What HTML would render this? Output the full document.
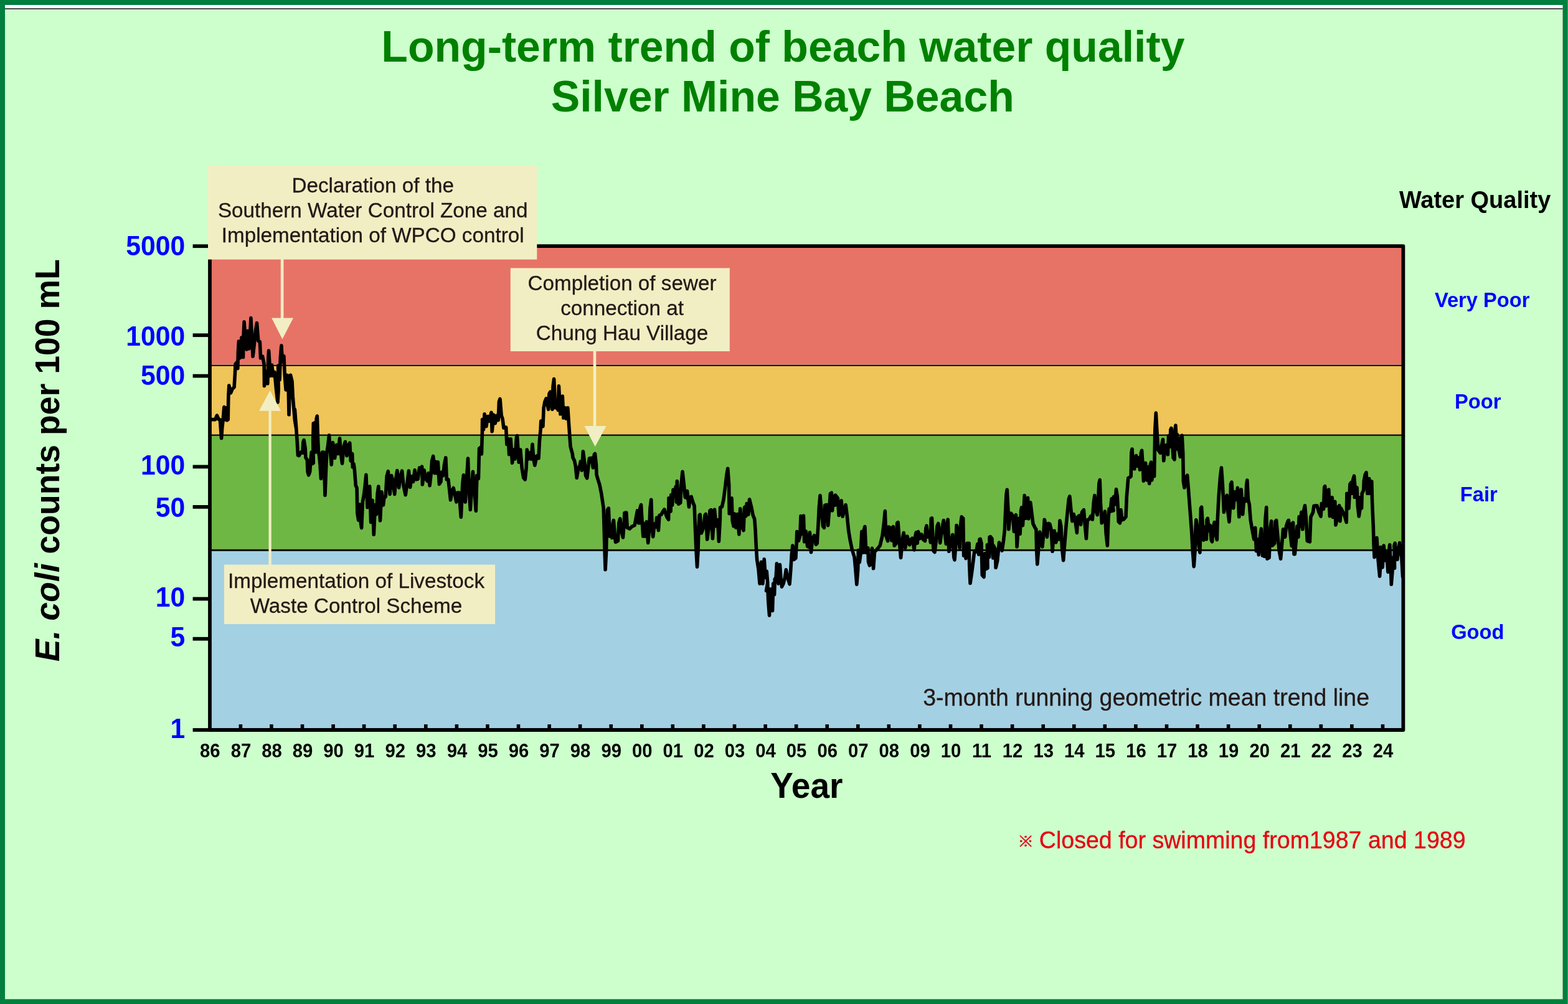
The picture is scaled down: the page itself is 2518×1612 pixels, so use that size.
<!DOCTYPE html>
<html lang="en">
<head>
<meta charset="utf-8">
<title>Long-term trend of beach water quality - Silver Mine Bay Beach</title>
<style>
html,body{margin:0;padding:0;background:#ccffcc;}
body{width:2518px;height:1612px;overflow:hidden;font-family:"Liberation Sans",Arial,Helvetica,sans-serif;}
svg{display:block;}
text{font-family:"Liberation Sans",Arial,Helvetica,sans-serif;}
.b{font-weight:bold;}
.yl{font-weight:bold;fill:#0000ff;}
.xl{font-weight:bold;fill:#000;}
.wq{font-weight:bold;fill:#0000ff;}
.an{fill:#231815;stroke:#231815;stroke-width:0.3px;}
.nt{fill:#e60012;stroke:#e60012;stroke-width:0.3px;}
.cj{font-family:"Liberation Sans","Noto Sans CJK JP",sans-serif;}
</style>
</head>
<body>
<svg width="2518" height="1612" viewBox="0 0 2518 1612">
<rect x="0" y="0" width="2518" height="1612" fill="#007f3f"/>
<rect x="2517.1" y="0" width="0.9" height="1612" fill="#4aa878"/>
<rect x="8" y="8" width="2501.5" height="1596.2" fill="#ffffff"/>
<rect x="8" y="13.4" width="2501.5" height="1590.8" fill="#000000"/>
<rect x="8" y="14.8" width="2501.5" height="1589.4" fill="#ccffcc"/>
<text transform="translate(1257.4 98.5) scale(1.0 1.017)" font-size="69.75" class="b" fill="#008000" text-anchor="middle">Long-term trend of beach water quality</text>
<text transform="translate(1256.7 179) scale(1.0 1.017)" font-size="69.75" class="b" fill="#008000" text-anchor="middle">Silver Mine Bay Beach</text>
<rect x="337.0" y="395.2" width="1916.4" height="191.5" fill="#e77366"/>
<rect x="337.0" y="586.7" width="1916.4" height="111.8" fill="#efc458"/>
<rect x="337.0" y="698.5" width="1916.4" height="184.8" fill="#6eb745"/>
<rect x="337.0" y="883.3" width="1916.4" height="288.7" fill="#a4d0e3"/>
<rect x="337.0" y="584.2" width="1916.4" height="1.7" fill="#c98c80"/>
<rect x="337.0" y="585.9" width="1916.4" height="1.9" fill="#1a0202"/>
<rect x="337.0" y="695.8" width="1916.4" height="1.7" fill="#dcc488"/>
<rect x="337.0" y="697.5" width="1916.4" height="2.3" fill="#150a02"/>
<rect x="337.0" y="880.8" width="1916.4" height="1.1" fill="#93a86a"/>
<rect x="337.0" y="881.9" width="1916.4" height="3.0" fill="#081003"/>
<line x1="386.4" y1="1163" x2="386.4" y2="1172.0" stroke="#000" stroke-width="5.6"/>
<line x1="435.9" y1="1163" x2="435.9" y2="1172.0" stroke="#000" stroke-width="5.6"/>
<line x1="485.5" y1="1163" x2="485.5" y2="1172.0" stroke="#000" stroke-width="5.6"/>
<line x1="535.1" y1="1163" x2="535.1" y2="1172.0" stroke="#000" stroke-width="5.6"/>
<line x1="584.6" y1="1163" x2="584.6" y2="1172.0" stroke="#000" stroke-width="5.6"/>
<line x1="634.2" y1="1163" x2="634.2" y2="1172.0" stroke="#000" stroke-width="5.6"/>
<line x1="683.8" y1="1163" x2="683.8" y2="1172.0" stroke="#000" stroke-width="5.6"/>
<line x1="733.4" y1="1163" x2="733.4" y2="1172.0" stroke="#000" stroke-width="5.6"/>
<line x1="782.9" y1="1163" x2="782.9" y2="1172.0" stroke="#000" stroke-width="5.6"/>
<line x1="832.5" y1="1163" x2="832.5" y2="1172.0" stroke="#000" stroke-width="5.6"/>
<line x1="882.1" y1="1163" x2="882.1" y2="1172.0" stroke="#000" stroke-width="5.6"/>
<line x1="931.6" y1="1163" x2="931.6" y2="1172.0" stroke="#000" stroke-width="5.6"/>
<line x1="981.2" y1="1163" x2="981.2" y2="1172.0" stroke="#000" stroke-width="5.6"/>
<line x1="1030.8" y1="1163" x2="1030.8" y2="1172.0" stroke="#000" stroke-width="5.6"/>
<line x1="1080.3" y1="1163" x2="1080.3" y2="1172.0" stroke="#000" stroke-width="5.6"/>
<line x1="1129.9" y1="1163" x2="1129.9" y2="1172.0" stroke="#000" stroke-width="5.6"/>
<line x1="1179.5" y1="1163" x2="1179.5" y2="1172.0" stroke="#000" stroke-width="5.6"/>
<line x1="1229.1" y1="1163" x2="1229.1" y2="1172.0" stroke="#000" stroke-width="5.6"/>
<line x1="1278.6" y1="1163" x2="1278.6" y2="1172.0" stroke="#000" stroke-width="5.6"/>
<line x1="1328.2" y1="1163" x2="1328.2" y2="1172.0" stroke="#000" stroke-width="5.6"/>
<line x1="1377.8" y1="1163" x2="1377.8" y2="1172.0" stroke="#000" stroke-width="5.6"/>
<line x1="1427.3" y1="1163" x2="1427.3" y2="1172.0" stroke="#000" stroke-width="5.6"/>
<line x1="1476.9" y1="1163" x2="1476.9" y2="1172.0" stroke="#000" stroke-width="5.6"/>
<line x1="1526.5" y1="1163" x2="1526.5" y2="1172.0" stroke="#000" stroke-width="5.6"/>
<line x1="1576.0" y1="1163" x2="1576.0" y2="1172.0" stroke="#000" stroke-width="5.6"/>
<line x1="1625.6" y1="1163" x2="1625.6" y2="1172.0" stroke="#000" stroke-width="5.6"/>
<line x1="1675.2" y1="1163" x2="1675.2" y2="1172.0" stroke="#000" stroke-width="5.6"/>
<line x1="1724.8" y1="1163" x2="1724.8" y2="1172.0" stroke="#000" stroke-width="5.6"/>
<line x1="1774.3" y1="1163" x2="1774.3" y2="1172.0" stroke="#000" stroke-width="5.6"/>
<line x1="1823.9" y1="1163" x2="1823.9" y2="1172.0" stroke="#000" stroke-width="5.6"/>
<line x1="1873.5" y1="1163" x2="1873.5" y2="1172.0" stroke="#000" stroke-width="5.6"/>
<line x1="1923.0" y1="1163" x2="1923.0" y2="1172.0" stroke="#000" stroke-width="5.6"/>
<line x1="1972.6" y1="1163" x2="1972.6" y2="1172.0" stroke="#000" stroke-width="5.6"/>
<line x1="2022.2" y1="1163" x2="2022.2" y2="1172.0" stroke="#000" stroke-width="5.6"/>
<line x1="2071.8" y1="1163" x2="2071.8" y2="1172.0" stroke="#000" stroke-width="5.6"/>
<line x1="2121.3" y1="1163" x2="2121.3" y2="1172.0" stroke="#000" stroke-width="5.6"/>
<line x1="2170.9" y1="1163" x2="2170.9" y2="1172.0" stroke="#000" stroke-width="5.6"/>
<line x1="2220.5" y1="1163" x2="2220.5" y2="1172.0" stroke="#000" stroke-width="5.6"/>
<line x1="309.6" y1="395.2" x2="337.0" y2="395.2" stroke="#000" stroke-width="5.8"/>
<text transform="translate(297.3 409.7) scale(1.0 1.04)" font-size="42.7" class="yl" text-anchor="end">5000</text>
<line x1="309.6" y1="538.2" x2="337.0" y2="538.2" stroke="#000" stroke-width="5.8"/>
<text transform="translate(297.3 554.8) scale(1.0 1.04)" font-size="42.7" class="yl" text-anchor="end">1000</text>
<line x1="309.6" y1="603.6" x2="337.0" y2="603.6" stroke="#000" stroke-width="5.8"/>
<text transform="translate(297.3 617.9) scale(1.0 1.04)" font-size="42.7" class="yl" text-anchor="end">500</text>
<line x1="309.6" y1="749.4" x2="337.0" y2="749.4" stroke="#000" stroke-width="5.8"/>
<text transform="translate(297.3 762.4) scale(1.0 1.04)" font-size="42.7" class="yl" text-anchor="end">100</text>
<line x1="309.6" y1="813.9" x2="337.0" y2="813.9" stroke="#000" stroke-width="5.8"/>
<text transform="translate(297.3 829.7) scale(1.0 1.04)" font-size="42.7" class="yl" text-anchor="end">50</text>
<line x1="309.6" y1="961.5" x2="337.0" y2="961.5" stroke="#000" stroke-width="5.8"/>
<text transform="translate(297.3 973.5) scale(1.0 1.04)" font-size="42.7" class="yl" text-anchor="end">10</text>
<line x1="309.6" y1="1025.7" x2="337.0" y2="1025.7" stroke="#000" stroke-width="5.8"/>
<text transform="translate(297.3 1037.5) scale(1.0 1.04)" font-size="42.7" class="yl" text-anchor="end">5</text>
<line x1="309.6" y1="1172.0" x2="337.0" y2="1172.0" stroke="#000" stroke-width="5.8"/>
<text transform="translate(297.3 1184.6) scale(1.0 1.04)" font-size="42.7" class="yl" text-anchor="end">1</text>
<clipPath id="pc"><rect x="337.0" y="395.2" width="1919.4" height="776.8"/></clipPath>
<polyline clip-path="url(#pc)" fill="none" stroke="#000" stroke-width="5.6" stroke-linejoin="round" stroke-linecap="round" points="340.0,673.6 345.6,673.6 348.4,667.1 351.2,673.3 353.4,673.9 354.4,687.5 355.6,703.7 356.7,687.5 358.1,674.8 359.9,653.6 361.2,673.6 362.4,654.9 364.3,674.8 366.2,673.6 366.8,637.2 367.8,619.1 370.5,630.9 373.0,624.7 376.1,621.6 377.4,599.8 378.0,584.8 379.9,582.3 381.8,591.6 382.4,564.8 383.4,548.0 385.5,574.8 386.7,556.1 388.0,541.8 390.5,573.6 391.1,537.4 392.1,516.8 394.2,549.9 396.1,561.1 398.0,531.2 399.8,559.9 401.7,537.4 402.9,510.6 404.8,549.9 406.1,572.3 408.6,549.9 410.4,531.2 412.5,518.7 414.8,547.4 417.3,548.6 418.5,574.8 421.6,572.3 424.1,584.8 424.5,619.7 427.3,596.0 429.8,616.0 430.8,574.8 431.6,563.0 434.1,603.5 436.6,586.0 438.5,603.5 441.0,597.3 443.5,624.7 446.0,645.9 447.2,624.7 446.6,587.3 449.1,609.7 450.3,574.8 451.9,554.9 453.4,581.0 455.9,571.7 457.2,602.2 459.1,625.9 460.3,602.2 462.8,603.5 464.0,665.8 465.3,624.7 466.5,602.2 469.0,612.2 470.3,637.2 473.4,674.6 475.9,689.5 473.4,657.4 475.3,682.3 477.1,707.3 478.4,731.0 480.2,731.6 483.4,726.0 485.9,727.2 486.9,709.8 488.1,706.7 490.2,719.8 490.9,734.7 493.3,738.5 494.0,757.2 495.6,762.8 497.7,757.2 498.9,738.5 500.2,726.0 501.4,744.7 503.3,743.4 502.7,707.3 503.3,679.9 504.6,724.7 505.8,678.6 507.1,726.0 508.1,672.4 509.3,668.0 510.6,707.3 511.4,724.7 512.7,732.2 513.9,744.7 515.4,768.4 516.4,732.2 517.7,726.0 518.5,757.2 519.5,726.0 520.8,757.2 522.0,795.2 523.9,744.7 524.8,726.0 526.4,717.3 528.5,698.7 530.8,729.9 532.2,746.1 534.5,710.5 537.6,735.5 540.7,714.3 543.2,728.6 545.5,703.7 547.6,729.9 549.5,744.2 552.0,717.4 554.4,709.3 556.9,731.8 559.4,714.9 561.7,711.2 563.2,739.9 565.7,728.6 566.3,749.8 568.1,744.8 569.4,754.8 571.3,779.8 573.1,783.5 573.8,823.4 575.6,835.2 577.5,809.7 579.4,839.6 580.6,847.7 582.5,804.7 584.4,794.7 586.2,779.8 587.9,762.3 590.0,814.7 591.9,782.2 593.7,781.0 595.6,838.4 598.1,803.4 600.3,858.3 602.4,810.9 604.3,825.9 606.2,792.2 607.8,781.0 610.5,835.9 612.8,789.7 615.5,810.9 616.8,799.7 619.3,797.2 621.1,764.8 623.3,756.7 626.1,793.5 628.6,763.5 630.6,771.0 633.7,793.5 635.6,769.8 637.8,755.5 640.6,782.9 643.1,764.8 645.6,756.1 648.0,779.8 651.2,794.7 653.7,777.3 656.4,756.1 658.6,782.3 661.1,764.8 663.6,773.5 666.1,754.8 668.6,769.8 671.1,769.2 673.6,751.1 675.5,754.8 677.6,749.2 678.4,777.9 681.1,754.8 683.6,768.5 686.1,772.3 688.0,759.8 690.1,779.8 692.3,759.8 693.6,739.9 695.7,732.4 697.9,759.8 699.2,741.1 701.0,759.8 703.3,741.8 705.4,777.3 707.9,773.5 709.1,758.0 711.6,763.6 713.5,746.1 715.8,734.9 717.3,769.8 719.8,769.8 721.6,784.8 723.5,802.8 726.0,788.5 728.2,783.5 730.4,793.5 732.8,806.0 734.7,791.0 737.2,791.0 740.3,830.3 742.8,777.3 744.4,762.9 747.2,806.0 749.7,764.8 751.5,736.1 753.4,789.8 755.3,818.4 757.8,777.3 759.4,757.3 762.1,792.2 764.3,820.3 765.9,763.6 768.4,768.5 769.6,719.9 771.5,718.4 773.4,729.0 774.4,694.7 774.6,673.5 776.5,689.7 778.1,664.8 780.9,684.7 783.3,668.5 785.8,676.0 789.0,662.3 790.2,692.8 792.7,666.0 795.2,679.7 797.7,667.3 800.2,674.7 801.4,644.8 803.0,640.5 805.2,667.3 807.0,672.2 808.9,687.2 812.6,686.0 813.9,713.4 816.4,704.7 817.6,729.6 820.1,704.7 822.6,743.3 824.5,722.1 827.0,737.1 829.5,702.2 830.5,699.7 833.2,742.1 835.7,722.1 838.2,752.0 840.7,767.0 843.2,770.1 845.1,752.0 846.3,722.1 848.8,737.1 850.7,727.1 853.2,737.1 855.0,713.4 856.9,737.1 858.8,747.1 861.9,732.1 865.0,735.8 866.3,709.6 868.1,689.7 868.8,676.0 871.9,684.7 873.1,654.8 875.0,644.8 877.1,639.8 880.6,657.3 881.9,632.3 883.7,629.2 886.8,657.3 888.1,619.9 889.6,608.6 891.8,654.8 894.3,651.0 896.2,658.5 897.4,619.9 899.9,664.8 901.8,637.3 903.3,636.1 904.9,671.0 907.4,654.8 909.3,672.2 911.8,654.8 913.6,682.2 916.1,717.1 919.2,728.4 920.0,734.8 922.5,739.8 924.3,748.5 926.2,767.2 928.7,752.2 931.2,747.2 932.4,741.0 934.3,755.3 936.4,724.8 939.3,747.2 940.5,763.4 942.7,767.8 944.9,748.5 946.4,736.0 949.9,735.4 952.4,751.0 954.3,729.8 955.5,728.5 957.4,746.0 958.0,762.2 959.9,768.7 963.0,778.7 965.5,791.2 967.4,803.6 969.2,816.1 970.1,847.3 971.1,884.7 972.1,914.6 973.6,884.7 974.2,847.3 975.5,818.6 977.3,816.1 978.3,841.0 979.2,861.0 981.7,846.0 982.9,863.5 984.2,839.8 985.4,835.4 987.3,859.8 988.5,870.4 992.3,868.5 993.8,839.8 995.8,832.9 997.9,852.3 1000.4,862.9 1002.3,839.8 1002.9,823.6 1005.8,823.0 1007.3,847.3 1011.0,849.1 1014.7,845.4 1019.1,843.5 1021.0,833.6 1023.5,819.9 1025.3,839.8 1027.2,839.8 1027.8,816.1 1029.5,810.5 1031.0,834.8 1032.8,861.0 1034.7,841.0 1035.9,861.0 1038.2,837.9 1040.7,871.6 1042.8,847.3 1044.0,816.1 1045.7,802.4 1047.2,847.3 1048.7,861.6 1050.9,841.0 1053.4,846.0 1054.6,831.1 1057.4,851.6 1059.0,827.3 1062.1,826.1 1064.6,821.1 1066.9,818.0 1070.8,829.8 1073.6,834.2 1074.0,799.9 1077.1,821.1 1077.7,794.9 1079.6,811.1 1081.1,786.2 1083.9,796.2 1085.2,781.2 1086.4,806.1 1087.3,772.5 1089.5,809.2 1092.7,807.4 1093.9,778.7 1096.0,757.3 1098.3,777.5 1100.2,798.6 1102.6,799.3 1103.5,788.4 1106.4,814.0 1108.2,798.6 1110.1,797.4 1112.6,806.1 1115.1,812.4 1116.4,847.3 1118.0,884.7 1119.5,910.2 1121.0,884.7 1122.0,847.3 1123.2,827.3 1124.2,826.1 1126.3,856.0 1128.8,849.8 1130.7,839.8 1132.0,827.3 1133.4,825.5 1135.7,866.0 1138.2,847.3 1140.0,819.9 1141.9,818.6 1144.4,864.7 1146.3,834.8 1147.5,818.0 1150.0,844.8 1152.5,834.8 1154.4,869.1 1156.3,834.8 1156.6,814.9 1159.4,813.6 1161.9,802.4 1164.4,783.7 1166.9,762.5 1168.7,752.3 1170.6,777.5 1171.2,824.8 1173.1,801.1 1175.0,799.9 1176.2,836.1 1178.1,844.8 1179.3,824.8 1181.8,847.3 1184.3,825.5 1186.8,857.9 1188.7,816.7 1191.2,844.8 1194.0,851.6 1195.5,814.9 1196.8,813.6 1198.0,828.6 1199.3,808.6 1201.8,826.1 1203.6,801.8 1206.8,814.9 1209.2,827.3 1211.8,833.6 1213.1,852.3 1214.3,877.3 1215.6,898.5 1218.1,914.7 1220.0,937.1 1221.2,914.7 1222.4,902.2 1224.3,914.7 1224.9,937.1 1227.2,897.9 1229.3,927.2 1231.2,917.2 1232.7,935.9 1230.5,948.4 1232.7,937.1 1233.7,964.6 1235.5,988.1 1237.4,945.9 1238.7,977.0 1240.5,980.6 1241.8,937.1 1243.6,954.6 1244.3,929.6 1246.1,927.2 1247.4,904.7 1249.9,937.1 1252.4,906.6 1253.9,927.2 1255.5,942.1 1258.0,937.1 1260.5,927.2 1262.3,914.7 1264.8,927.2 1268.0,937.8 1269.8,914.7 1271.3,889.8 1272.9,876.0 1274.8,898.5 1277.9,896.0 1279.2,869.8 1279.8,853.6 1282.3,868.5 1284.8,859.8 1286.0,828.6 1288.3,857.3 1290.4,828.0 1291.7,869.8 1294.1,853.0 1296.6,877.3 1299.1,878.5 1300.4,854.8 1302.5,886.6 1304.7,864.8 1307.5,859.8 1310.3,874.2 1312.2,872.3 1314.1,839.9 1315.3,814.9 1317.0,795.6 1319.1,821.2 1321.6,844.9 1323.4,847.4 1324.7,811.2 1327.8,810.6 1329.7,843.6 1331.5,821.2 1333.4,792.5 1335.3,791.2 1336.5,819.9 1338.4,797.5 1340.9,811.2 1341.5,795.0 1345.3,800.0 1347.1,827.4 1349.6,821.2 1351.1,803.7 1353.1,829.3 1355.2,821.2 1358.1,810.6 1360.2,827.4 1362.7,852.3 1365.2,867.3 1368.3,882.3 1372.1,894.7 1373.9,914.7 1375.8,938.4 1377.7,914.7 1378.3,883.5 1380.2,902.8 1382.0,889.8 1383.9,853.6 1386.4,887.3 1387.0,852.3 1388.9,845.5 1390.8,887.3 1393.9,879.8 1394.5,902.2 1396.4,907.8 1398.9,906.0 1400.5,880.4 1402.6,912.8 1404.5,886.0 1408.2,882.3 1413.2,876.0 1417.0,859.8 1419.5,839.9 1421.3,820.5 1422.6,859.8 1425.7,868.5 1426.9,846.1 1430.0,847.4 1431.9,867.9 1434.4,845.5 1436.3,876.0 1439.4,872.3 1440.7,839.9 1442.1,838.6 1444.4,871.0 1446.6,895.4 1449.4,864.8 1451.2,855.5 1453.7,879.8 1456.9,861.1 1460.6,874.8 1463.1,866.1 1465.0,864.2 1468.1,882.9 1470.0,859.8 1471.2,854.8 1473.1,872.3 1474.6,853.6 1476.8,864.8 1479.9,858.0 1482.4,866.1 1485.5,868.5 1486.8,848.6 1488.0,844.2 1490.5,862.3 1493.0,859.8 1494.3,871.0 1495.3,832.4 1496.5,831.8 1498.0,864.8 1499.2,884.8 1501.0,886.6 1503.1,869.8 1505.0,844.8 1506.8,840.5 1509.7,871.6 1512.4,851.0 1515.3,835.5 1517.4,857.3 1519.3,873.5 1520.5,844.8 1522.2,834.2 1523.9,885.3 1526.8,869.8 1529.7,858.5 1531.8,894.7 1533.0,899.0 1535.1,869.8 1536.1,843.6 1538.6,857.3 1541.1,879.7 1542.4,844.8 1544.2,829.9 1546.7,832.3 1547.6,892.2 1549.8,876.0 1551.1,896.6 1553.0,872.2 1556.1,872.2 1556.7,907.2 1558.0,936.5 1560.5,919.6 1562.9,900.9 1564.8,884.7 1567.9,886.0 1569.8,873.5 1571.7,890.3 1572.9,866.0 1574.2,865.4 1576.0,872.2 1577.3,923.4 1580.0,926.5 1581.7,888.5 1583.5,913.4 1586.0,912.1 1585.4,874.7 1588.5,894.7 1589.1,862.3 1590.4,861.6 1592.9,864.8 1594.7,895.9 1595.4,876.0 1598.5,882.2 1599.1,911.5 1601.6,900.9 1603.5,882.2 1604.5,871.0 1607.2,876.0 1609.1,884.1 1611.6,867.3 1613.4,851.0 1614.7,819.9 1615.9,794.9 1617.2,786.2 1619.0,819.9 1619.9,849.8 1621.5,832.3 1623.7,824.2 1626.5,828.6 1628.4,853.5 1630.3,832.3 1631.5,826.7 1633.1,877.9 1635.3,844.8 1636.5,832.3 1638.1,857.3 1639.6,819.9 1640.6,814.9 1642.4,843.6 1644.0,819.9 1645.2,795.6 1647.1,832.3 1649.0,817.4 1650.6,799.3 1651.8,833.0 1653.3,819.9 1654.8,806.8 1657.1,826.1 1659.0,841.1 1662.1,847.3 1663.9,849.8 1664.6,882.2 1665.8,905.9 1667.7,882.2 1668.9,857.3 1669.8,854.2 1672.0,869.8 1673.9,877.9 1675.8,857.3 1677.3,834.2 1679.5,844.8 1681.4,862.3 1683.3,840.5 1685.8,841.1 1688.2,851.0 1690.1,885.3 1692.0,857.3 1693.2,852.3 1695.7,871.0 1698.2,857.3 1700.7,866.0 1702.0,836.1 1703.8,844.8 1705.7,882.2 1707.6,899.7 1709.5,876.0 1712.0,844.8 1714.4,819.9 1716.3,801.2 1717.8,796.8 1720.0,819.9 1721.9,836.7 1724.2,825.5 1726.9,837.3 1729.4,855.4 1730.7,829.9 1733.1,828.0 1735.6,842.3 1737.5,822.4 1740.4,818.6 1742.5,844.8 1744.4,864.8 1746.2,834.8 1749.3,833.6 1751.8,828.6 1754.3,834.2 1756.2,807.4 1757.8,795.6 1760.0,819.9 1762.1,826.7 1763.7,801.2 1764.9,776.2 1766.2,770.6 1767.4,807.4 1769.3,839.8 1772.4,832.3 1774.3,821.1 1776.2,857.3 1778.3,876.0 1779.9,832.3 1781.2,816.8 1784.3,819.9 1785.5,800.5 1788.0,819.9 1783.1,821.1 1785.0,801.1 1786.9,819.9 1788.7,797.4 1790.6,809.9 1792.5,785.6 1794.3,797.4 1795.6,822.3 1796.2,837.3 1798.5,839.8 1800.0,818.6 1801.8,834.8 1804.9,833.6 1808.0,829.8 1809.3,797.4 1811.8,767.5 1814.9,765.9 1816.2,764.7 1816.8,727.3 1818.0,721.0 1819.9,752.2 1821.8,752.8 1823.0,734.8 1824.5,731.6 1826.8,748.5 1829.2,734.8 1830.5,754.1 1832.4,727.3 1833.6,723.3 1835.5,752.2 1836.4,772.2 1838.0,746.0 1839.6,743.5 1841.7,770.9 1843.6,749.7 1845.7,776.5 1847.3,746.0 1848.6,742.2 1849.8,770.9 1851.7,743.5 1853.6,764.7 1854.2,727.3 1854.8,689.9 1856.3,663.1 1858.5,702.3 1859.8,722.3 1863.5,727.3 1865.4,714.8 1867.5,705.5 1868.8,739.8 1871.0,717.3 1872.9,714.8 1875.4,729.8 1876.6,699.9 1879.1,717.3 1879.8,689.9 1881.0,687.4 1882.9,714.8 1884.1,734.8 1886.0,737.9 1887.0,689.9 1887.9,683.0 1889.7,721.0 1890.3,697.4 1892.8,721.0 1895.3,733.5 1896.6,702.3 1898.2,699.2 1899.7,727.3 1900.3,764.7 1900.3,772.5 1902.0,783.1 1904.7,766.2 1906.6,763.1 1908.4,784.9 1910.3,809.9 1912.2,834.8 1914.0,859.8 1915.3,884.7 1917.2,909.6 1919.0,884.7 1919.7,853.5 1920.9,834.8 1922.8,847.3 1924.6,872.2 1926.9,887.2 1927.8,847.3 1928.4,816.1 1929.6,814.2 1931.5,847.3 1932.7,867.2 1934.6,846.0 1937.4,866.0 1938.1,834.8 1939.3,832.3 1941.5,852.3 1943.3,843.5 1945.2,867.2 1946.5,869.7 1948.3,847.3 1950.2,838.5 1952.7,859.8 1954.3,866.6 1955.2,834.8 1957.1,797.4 1959.5,766.2 1961.4,751.0 1963.3,777.5 1965.5,822.3 1968.3,802.4 1970.2,795.3 1972.0,822.3 1973.9,837.9 1975.8,809.9 1976.4,777.5 1977.9,774.1 1979.5,797.4 1980.8,815.9 1982.6,789.9 1984.5,802.4 1985.7,797.4 1987.4,783.4 1989.8,829.8 1992.0,789.9 1993.2,785.9 1995.7,825.8 1997.6,800.9 2000.7,804.6 2001.7,778.7 2002.8,771.0 2004.4,802.1 2006.3,809.9 2008.2,834.8 2010.7,849.8 2013.8,866.0 2015.7,847.3 2017.5,884.7 2019.4,866.0 2021.3,890.9 2023.8,859.8 2025.4,849.1 2027.5,892.2 2029.4,872.2 2030.6,893.4 2031.9,834.8 2033.7,814.6 2035.0,897.2 2038.1,895.3 2040.0,847.3 2041.6,836.7 2043.1,876.0 2046.8,872.2 2048.1,837.3 2049.6,835.4 2051.8,859.8 2054.3,884.7 2056.6,897.2 2058.7,872.2 2060.6,849.8 2063.7,862.2 2065.5,844.8 2068.0,837.3 2069.3,835.4 2071.8,854.8 2074.3,876.6 2074.9,841.0 2076.5,839.2 2078.0,889.7 2079.3,889.7 2081.2,869.8 2083.1,844.8 2084.9,862.3 2086.2,829.9 2088.1,844.8 2089.9,822.4 2091.8,849.8 2093.7,819.9 2095.5,811.8 2097.4,832.3 2099.3,868.5 2103.4,869.8 2104.9,829.9 2108.6,822.4 2109.9,812.4 2114.9,811.8 2118.0,822.4 2121.1,829.2 2122.3,808.6 2125.5,817.4 2126.7,782.5 2127.7,780.6 2129.8,812.4 2132.3,787.5 2133.8,786.2 2135.4,828.6 2137.3,801.2 2139.2,798.7 2140.4,830.5 2142.3,807.4 2143.8,805.5 2145.0,842.9 2147.3,832.3 2149.2,813.6 2150.8,811.8 2152.0,836.7 2153.5,816.1 2156.6,822.4 2159.8,829.9 2162.2,838.6 2162.9,792.4 2166.0,816.1 2167.2,792.4 2167.9,777.3 2169.7,774.8 2171.6,792.3 2172.8,769.8 2174.5,764.2 2176.0,782.3 2175.3,798.5 2177.8,783.5 2179.1,782.9 2180.3,812.2 2182.2,829.0 2184.1,817.2 2184.7,798.5 2186.6,816.0 2187.2,792.3 2189.7,787.3 2190.3,772.3 2192.2,762.3 2194.0,758.6 2195.9,792.3 2197.2,769.8 2198.7,768.6 2199.7,792.3 2200.9,774.8 2202.8,772.9 2203.6,807.2 2205.3,844.6 2206.1,875.8 2207.1,894.7 2209.0,876.0 2210.9,863.5 2212.7,894.7 2215.6,925.2 2217.7,894.7 2216.9,878.5 2220.2,910.9 2222.1,876.0 2224.6,899.7 2226.5,884.7 2228.9,918.4 2230.8,882.2 2231.8,874.7 2233.3,907.2 2234.3,938.3 2235.8,919.6 2237.7,894.7 2239.6,912.1 2238.9,876.0 2240.2,872.2 2242.0,888.5 2243.9,898.4 2245.8,882.2 2247.7,871.6 2249.5,882.2 2250.8,894.7 2252.6,925.9"/>
<rect x="337.0" y="395.2" width="1916.4" height="776.8" fill="none" stroke="#000" stroke-width="5.8" stroke-linejoin="round"/>
<text transform="translate(337.3 1216) scale(0.975 1.07)" font-size="30" class="xl" text-anchor="middle">86</text>
<text transform="translate(386.9 1216) scale(0.975 1.07)" font-size="30" class="xl" text-anchor="middle">87</text>
<text transform="translate(436.4 1216) scale(0.975 1.07)" font-size="30" class="xl" text-anchor="middle">88</text>
<text transform="translate(486.0 1216) scale(0.975 1.07)" font-size="30" class="xl" text-anchor="middle">89</text>
<text transform="translate(535.6 1216) scale(0.975 1.07)" font-size="30" class="xl" text-anchor="middle">90</text>
<text transform="translate(585.1 1216) scale(0.975 1.07)" font-size="30" class="xl" text-anchor="middle">91</text>
<text transform="translate(634.7 1216) scale(0.975 1.07)" font-size="30" class="xl" text-anchor="middle">92</text>
<text transform="translate(684.3 1216) scale(0.975 1.07)" font-size="30" class="xl" text-anchor="middle">93</text>
<text transform="translate(733.9 1216) scale(0.975 1.07)" font-size="30" class="xl" text-anchor="middle">94</text>
<text transform="translate(783.4 1216) scale(0.975 1.07)" font-size="30" class="xl" text-anchor="middle">95</text>
<text transform="translate(833.0 1216) scale(0.975 1.07)" font-size="30" class="xl" text-anchor="middle">96</text>
<text transform="translate(882.6 1216) scale(0.975 1.07)" font-size="30" class="xl" text-anchor="middle">97</text>
<text transform="translate(932.1 1216) scale(0.975 1.07)" font-size="30" class="xl" text-anchor="middle">98</text>
<text transform="translate(981.7 1216) scale(0.975 1.07)" font-size="30" class="xl" text-anchor="middle">99</text>
<text transform="translate(1031.3 1216) scale(0.975 1.07)" font-size="30" class="xl" text-anchor="middle">00</text>
<text transform="translate(1080.8 1216) scale(0.975 1.07)" font-size="30" class="xl" text-anchor="middle">01</text>
<text transform="translate(1130.4 1216) scale(0.975 1.07)" font-size="30" class="xl" text-anchor="middle">02</text>
<text transform="translate(1180.0 1216) scale(0.975 1.07)" font-size="30" class="xl" text-anchor="middle">03</text>
<text transform="translate(1229.6 1216) scale(0.975 1.07)" font-size="30" class="xl" text-anchor="middle">04</text>
<text transform="translate(1279.1 1216) scale(0.975 1.07)" font-size="30" class="xl" text-anchor="middle">05</text>
<text transform="translate(1328.7 1216) scale(0.975 1.07)" font-size="30" class="xl" text-anchor="middle">06</text>
<text transform="translate(1378.3 1216) scale(0.975 1.07)" font-size="30" class="xl" text-anchor="middle">07</text>
<text transform="translate(1427.8 1216) scale(0.975 1.07)" font-size="30" class="xl" text-anchor="middle">08</text>
<text transform="translate(1477.4 1216) scale(0.975 1.07)" font-size="30" class="xl" text-anchor="middle">09</text>
<text transform="translate(1527.0 1216) scale(0.975 1.07)" font-size="30" class="xl" text-anchor="middle">10</text>
<text transform="translate(1576.5 1216) scale(0.975 1.07)" font-size="30" class="xl" text-anchor="middle">11</text>
<text transform="translate(1626.1 1216) scale(0.975 1.07)" font-size="30" class="xl" text-anchor="middle">12</text>
<text transform="translate(1675.7 1216) scale(0.975 1.07)" font-size="30" class="xl" text-anchor="middle">13</text>
<text transform="translate(1725.3 1216) scale(0.975 1.07)" font-size="30" class="xl" text-anchor="middle">14</text>
<text transform="translate(1774.8 1216) scale(0.975 1.07)" font-size="30" class="xl" text-anchor="middle">15</text>
<text transform="translate(1824.4 1216) scale(0.975 1.07)" font-size="30" class="xl" text-anchor="middle">16</text>
<text transform="translate(1874.0 1216) scale(0.975 1.07)" font-size="30" class="xl" text-anchor="middle">17</text>
<text transform="translate(1923.5 1216) scale(0.975 1.07)" font-size="30" class="xl" text-anchor="middle">18</text>
<text transform="translate(1973.1 1216) scale(0.975 1.07)" font-size="30" class="xl" text-anchor="middle">19</text>
<text transform="translate(2022.7 1216) scale(0.975 1.07)" font-size="30" class="xl" text-anchor="middle">20</text>
<text transform="translate(2072.2 1216) scale(0.975 1.07)" font-size="30" class="xl" text-anchor="middle">21</text>
<text transform="translate(2121.8 1216) scale(0.975 1.07)" font-size="30" class="xl" text-anchor="middle">22</text>
<text transform="translate(2171.4 1216) scale(0.975 1.07)" font-size="30" class="xl" text-anchor="middle">23</text>
<text transform="translate(2221.0 1216) scale(0.975 1.07)" font-size="30" class="xl" text-anchor="middle">24</text>
<text transform="translate(1295.3 1281.1) scale(1.0 1.03)" font-size="55" class="b" text-anchor="middle">Year</text>
<text class="b" transform="translate(94.5 1062.3) rotate(-90) scale(1 1.04)" font-size="53.6"><tspan font-style="italic">E. coli</tspan> counts per 100 mL</text>
<g fill="#f2eec4">
<rect x="450.8" y="410" width="4.6" height="102"/>
<polygon points="436.2,510.5 471,510.5 453.4,544.5"/>
<rect x="431.5" y="658" width="4.2" height="250"/>
<polygon points="416,659.7 451,659.7 433.6,627"/>
<rect x="952.7" y="560" width="4.6" height="125"/>
<polygon points="938.4,684 973.6,684 955.7,717"/>
<rect x="334" y="266.2" width="528.3" height="150.4"/>
<rect x="819.8" y="430.4" width="352" height="133.6"/>
<rect x="359.9" y="906.6" width="435.1" height="95.4"/>
</g>
<text transform="translate(598.7 308.9) scale(1.0 1.01)" font-size="33.25" class="an" text-anchor="middle">Declaration of the</text>
<text transform="translate(598.7 348.8) scale(1.0 1.01)" font-size="33.25" class="an" text-anchor="middle">Southern Water Control Zone and</text>
<text transform="translate(598.7 389) scale(1.0 1.01)" font-size="33.25" class="an" text-anchor="middle">Implementation of WPCO control</text>
<text transform="translate(999 466.2) scale(1.0 1.01)" font-size="33.25" class="an" text-anchor="middle">Completion of sewer</text>
<text transform="translate(999 506.3) scale(1.0 1.01)" font-size="33.25" class="an" text-anchor="middle">connection at</text>
<text transform="translate(999 546.4) scale(1.0 1.01)" font-size="33.25" class="an" text-anchor="middle">Chung Hau Village</text>
<text transform="translate(572 944) scale(1.0 1.01)" font-size="33.25" class="an" text-anchor="middle">Implementation of Livestock</text>
<text transform="translate(572 983.7) scale(1.0 1.01)" font-size="33.25" class="an" text-anchor="middle">Waste Control Scheme</text>
<text transform="translate(2368.6 334.3) scale(1.0 1.03)" font-size="38" class="b" text-anchor="middle">Water Quality</text>
<text transform="translate(2380.2 493.3) scale(1.0 1.03)" font-size="32.7" class="wq" text-anchor="middle">Very Poor</text>
<text transform="translate(2373.3 656.0) scale(1.0 1.03)" font-size="32.7" class="wq" text-anchor="middle">Poor</text>
<text transform="translate(2374.8 804.6) scale(1.0 1.03)" font-size="32.7" class="wq" text-anchor="middle">Fair</text>
<text transform="translate(2372.8 1026.3) scale(1.0 1.03)" font-size="32.7" class="wq" text-anchor="middle">Good</text>
<text transform="translate(2199 1133.0) scale(1.0 1.01)" font-size="37.5" class="an" text-anchor="end">3-month running geometric mean trend line</text>
<text x="1635.8" y="1358.9" font-size="22.7" fill="#e60012" stroke="#e60012" stroke-width="0.5" style="font-family:'Liberation Sans',IPAGothic,'Noto Sans CJK JP',sans-serif">※</text>
<text transform="translate(1668.8 1361.8) scale(1.0 1.01)" font-size="37.57" class="nt">Closed for swimming from1987 and 1989</text>
</svg>
</body>
</html>
